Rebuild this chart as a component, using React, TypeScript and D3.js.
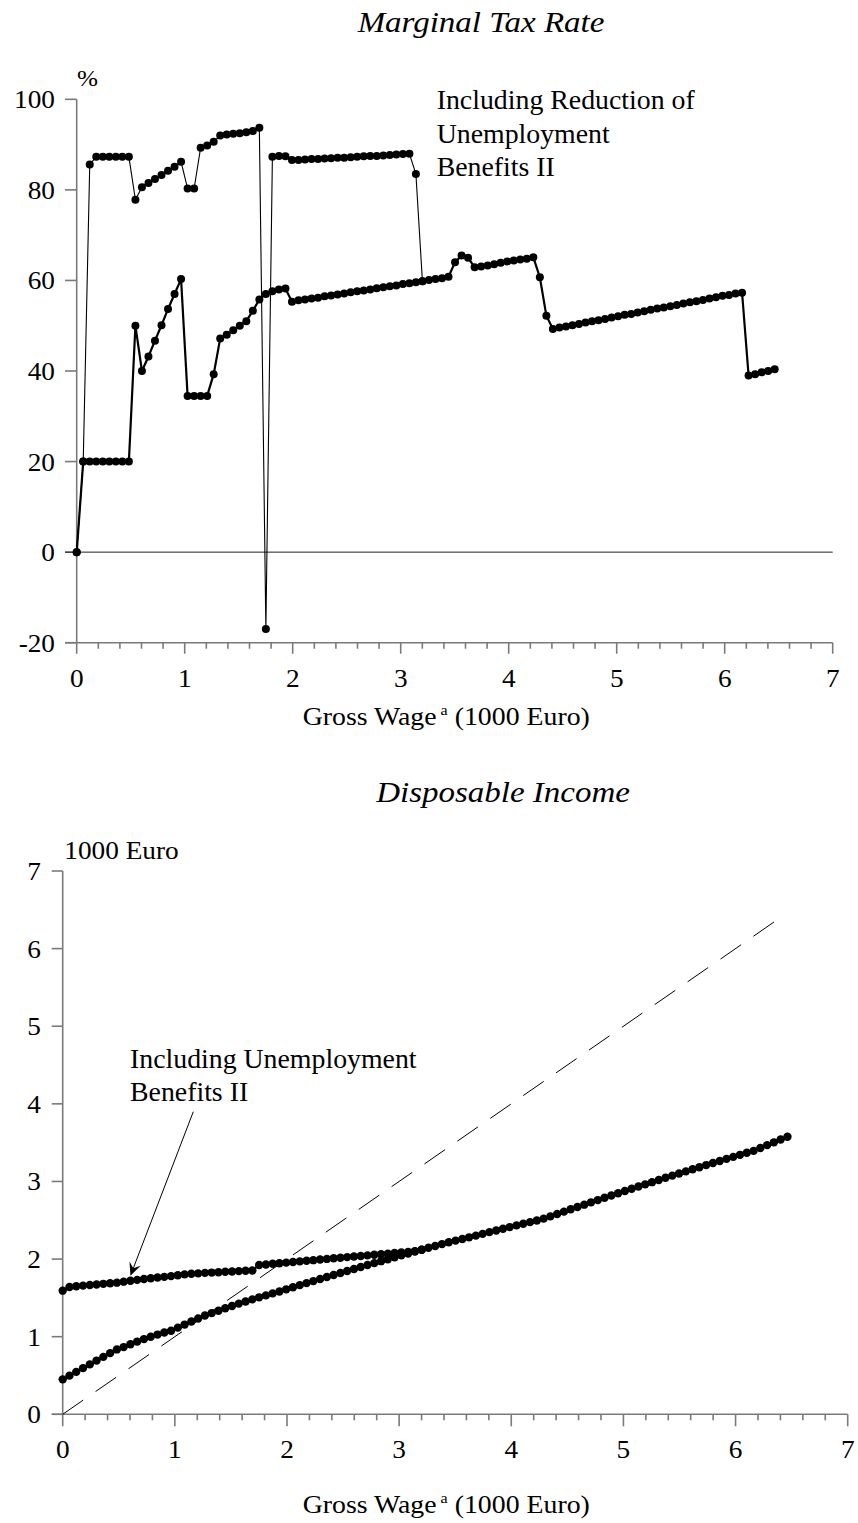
import React from 'react';
import * as d3 from 'd3';

// Gross wage grid (1000 Euro)
const WAGE_STEP = 0.0604;
const grossWage: number[] = d3.range(108).map((i) => i * WAGE_STEP);

// Marginal tax rate (%) – base case
const mtrBase: number[] = [
  0, 20, 20, 20, 20, 20, 20, 20, 20,
  50, 40, 43.2, 46.7, 50.1, 53.7, 57.0, 60.3,
  34.5, 34.5, 34.5, 34.5,
  39.3, 47.2, 48.0, 49.0, 50.0, 51.0, 53.3, 55.8,
  57.0, 57.6, 58.0, 58.2,
  55.3,
  55.6, 55.8, 56.0, 56.2, 56.5, 56.7, 56.9, 57.1, 57.4, 57.6, 57.8, 58.0,
  58.3, 58.5, 58.7, 58.9, 59.2, 59.4, 59.6, 59.8, 60.1, 60.3, 60.5, 60.8,
  64.0, 65.5, 65.0,
  62.9, 63.1, 63.3, 63.6, 63.9, 64.2, 64.4, 64.6, 64.8, 65.1,
  60.7, 52.2, 49.3,
  49.6, 49.8, 50.1, 50.4, 50.7, 51.0, 51.2, 51.5, 51.8, 52.1, 52.4, 52.6,
  52.9, 53.2, 53.5, 53.8, 54.0, 54.3, 54.6, 54.9, 55.2, 55.4, 55.7, 56.0,
  56.3, 56.6, 56.8, 57.1, 57.3,
  39.0, 39.3, 39.7, 40.0, 40.4,
];

// Marginal tax rate (%) – including reduction of Unemployment Benefits II
// (identical to the base case from the last value on)
const mtrWithUB: number[] = [
  0, 20, 85.6,
  87.3, 87.3, 87.3, 87.3, 87.3, 87.3,
  77.8, 80.6, 81.5, 82.4, 83.3, 84.2, 85.1, 86.2,
  80.3, 80.3,
  89.3, 89.8, 90.6, 92.0, 92.2, 92.4, 92.5, 92.7, 93.0, 93.7,
  -17.0,
  87.3, 87.5, 87.4,
  86.6, 86.6, 86.7, 86.8, 86.8, 86.9, 87.0, 87.1, 87.1, 87.2, 87.3, 87.4,
  87.5, 87.5, 87.6, 87.7, 87.8, 87.9, 88.0,
  83.5, 59.8,
];

// Disposable income (1000 Euro) – base case
const incomeBase: number[] = [
  0.450, 0.498, 0.547, 0.595, 0.643, 0.692, 0.740, 0.788, 0.836,
  0.866, 0.903, 0.937, 0.969, 0.999, 1.027, 1.053, 1.077,
  1.117, 1.156, 1.196, 1.235,
  1.272, 1.304, 1.335, 1.366, 1.396, 1.426, 1.454, 1.481,
  1.507, 1.532, 1.558, 1.583,
  1.610,
  1.637, 1.664, 1.690, 1.716, 1.743, 1.769, 1.795, 1.821, 1.847, 1.872, 1.898, 1.923,
  1.948, 1.973, 1.998, 2.023, 2.048, 2.072, 2.097, 2.121, 2.145, 2.169, 2.193, 2.216,
  2.238, 2.259, 2.280,
  2.302, 2.325, 2.347, 2.369, 2.391, 2.412, 2.434, 2.455, 2.476, 2.497,
  2.521, 2.550, 2.580,
  2.611, 2.641, 2.671, 2.701, 2.731, 2.760, 2.790, 2.819, 2.848, 2.877,
  2.906, 2.935, 2.963, 2.991, 3.019, 3.047, 3.075, 3.102, 3.130, 3.157,
  3.184, 3.211, 3.238, 3.264, 3.291, 3.317, 3.343, 3.369, 3.394,
  3.431, 3.468, 3.504, 3.540, 3.576,
];

// Disposable income (1000 Euro) – including Unemployment Benefits II
const incomeWithUB: number[] = [
  1.593, 1.641, 1.650,
  1.658, 1.665, 1.673, 1.681, 1.688, 1.696,
  1.709, 1.721, 1.732, 1.743, 1.753, 1.762, 1.771, 1.780,
  1.792, 1.803,
  1.810, 1.816, 1.822, 1.826, 1.831, 1.836, 1.840, 1.845, 1.849, 1.853,
  1.924,
  1.931, 1.939, 1.946,
  1.954, 1.962, 1.970, 1.978, 1.986, 1.994, 2.002, 2.010, 2.017, 2.025,
  2.033, 2.040, 2.048, 2.055, 2.063, 2.070, 2.078, 2.085, 2.092,
  2.102, 2.121,
];

// 45-degree reference line (gross = net), end of drawn range
const diagonalEnd = 6.35;

const xTicks = [0, 1, 2, 3, 4, 5, 6, 7];
const xMinorTicks = d3.range(0, 35.5, 1).map((i) => i / 5);
const mtrTicks = [-20, 0, 20, 40, 60, 80, 100];
const incomeTicks = [0, 1, 2, 3, 4, 5, 6, 7];

const FONT = "'Liberation Serif','Times New Roman',Times,serif";
const AXIS = '#7a7a7a';

type TxtProps = {
  x: number;
  y: number;
  anchor?: 'start' | 'middle' | 'end';
  size?: number;
  italic?: boolean;
  sx?: number;
  children: React.ReactNode;
};
const Txt = ({ x, y, anchor = 'start', size = 26, italic = false, sx = 1.05, children }: TxtProps) => (
  <text
    transform={`translate(${x},${y}) scale(${sx},1)`}
    textAnchor={anchor}
    fontSize={size}
    fontStyle={italic ? 'italic' : 'normal'}
    fontFamily={FONT}
    fill="#000"
  >
    {children}
  </text>
);

const XLabel = ({ x, y }: { x: number; y: number }) => (
  <text transform={`translate(${x},${y}) scale(1.07,1)`} fontSize={26} fontFamily={FONT} fill="#000">
    Gross Wage
    <tspan fontSize={15} dy={-10}> a</tspan>
    <tspan dy={10}> (1000 Euro)</tspan>
  </text>
);

export default function App() {
  // Top chart scales
  const xT = d3.scaleLinear().domain([0, 7]).range([76.7, 832.7]);
  const yT = d3.scaleLinear().domain([-20, 100]).range([642.7, 99.3]);
  // Bottom chart scales
  const xB = d3.scaleLinear().domain([0, 7]).range([62.7, 847.7]);
  const yB = d3.scaleLinear().domain([0, 7]).range([1414.3, 871]);

  const lineT = d3
    .line<number>()
    .x((_, i) => xT(grossWage[i]))
    .y((d) => yT(d));
  const lineB = d3
    .line<number>()
    .x((_, i) => xB(grossWage[i]))
    .y((d) => yB(d));

  // arrow
  const arrowStart: [number, number] = [193.3, 1111.7];
  const tipIdx = 10;
  const tip: [number, number] = [xB(grossWage[tipIdx]), yB(incomeWithUB[tipIdx]) - 5];
  const dx = tip[0] - arrowStart[0];
  const dy = tip[1] - arrowStart[1];
  const len = Math.hypot(dx, dy);
  const ux = dx / len;
  const uy = dy / len;
  const nx = -uy;
  const ny = ux;
  const headL = 13;
  const headW = 6;
  const notch = 8;
  const w1 = [tip[0] - ux * headL + nx * headW, tip[1] - uy * headL + ny * headW];
  const w2 = [tip[0] - ux * headL - nx * headW, tip[1] - uy * headL - ny * headW];
  const nb = [tip[0] - ux * notch, tip[1] - uy * notch];

  return (
    <svg
      width={858}
      height={1523}
      style={{ position: 'absolute', left: 0, top: 0, background: '#fff' }}
    >
      <rect x={0} y={0} width={858} height={1523} fill="#fff" />

      {/* ================= TOP CHART ================= */}
      <Txt x={481} y={32.3} anchor="middle" size={30} italic sx={1.1}>
        Marginal Tax Rate
      </Txt>
      <Txt x={77} y={86} size={24}>
        %
      </Txt>

      {/* zero line */}
      <line x1={65} x2={xT(7)} y1={yT(0)} y2={yT(0)} stroke="#222" strokeWidth={1} />
      {/* y axis */}
      <line x1={xT(0)} x2={xT(0)} y1={yT(100)} y2={yT(-20)} stroke={AXIS} strokeWidth={1.6} />
      {/* x axis */}
      <line x1={65} x2={xT(7)} y1={yT(-20)} y2={yT(-20)} stroke={AXIS} strokeWidth={1.6} />
      {mtrTicks.map((t) => (
        <g key={`yt${t}`}>
          <line x1={65} x2={xT(0)} y1={yT(t)} y2={yT(t)} stroke={t === 0 ? '#222' : AXIS} strokeWidth={t === 0 ? 1 : 1.6} />
          <Txt x={55} y={yT(t) + 9} anchor="end">
            {t}
          </Txt>
        </g>
      ))}
      {xMinorTicks.map((t) => (
        <line
          key={`xmt${t}`}
          x1={xT(t)}
          x2={xT(t)}
          y1={yT(-20)}
          y2={yT(-20) + (Math.abs(t - Math.round(t)) < 1e-6 ? 11 : 6)}
          stroke={AXIS}
          strokeWidth={1.6}
        />
      ))}
      {xTicks.map((t) => (
        <Txt key={`xtl${t}`} x={xT(t)} y={686.7} anchor="middle">
          {t}
        </Txt>
      ))}
      <XLabel x={302.7} y={725} />

      {/* series */}
      <path d={lineT(mtrBase) || ''} fill="none" stroke="#000" strokeWidth={2.2} />
      <path d={lineT(mtrWithUB) || ''} fill="none" stroke="#000" strokeWidth={1.1} />
      {mtrBase.map((v, i) => (
        <circle key={`mb${i}`} cx={xT(grossWage[i])} cy={yT(v)} r={4} fill="#000" />
      ))}
      {mtrWithUB.map((v, i) => (
        <circle key={`mu${i}`} cx={xT(grossWage[i])} cy={yT(v)} r={4} fill="#000" />
      ))}

      <Txt x={436.7} y={109.3} size={26.5}>
        Including Reduction of
      </Txt>
      <Txt x={436.7} y={142.7} size={26.5}>
        Unemployment
      </Txt>
      <Txt x={436.7} y={176} size={26.5}>
        Benefits II
      </Txt>

      {/* ================= BOTTOM CHART ================= */}
      <Txt x={503} y={802} anchor="middle" size={30} italic sx={1.1}>
        Disposable Income
      </Txt>
      <Txt x={64.3} y={859.3} size={26}>
        1000 Euro
      </Txt>

      <line x1={xB(0)} x2={xB(0)} y1={yB(7)} y2={yB(0)} stroke={AXIS} strokeWidth={1.6} />
      <line x1={51.7} x2={xB(7)} y1={yB(0)} y2={yB(0)} stroke={AXIS} strokeWidth={1.6} />
      {incomeTicks.map((t) => (
        <g key={`ybt${t}`}>
          <line x1={51.7} x2={xB(0)} y1={yB(t)} y2={yB(t)} stroke={AXIS} strokeWidth={1.6} />
          <Txt x={41} y={yB(t) + 9} anchor="end">
            {t}
          </Txt>
        </g>
      ))}
      {xMinorTicks.map((t) => (
        <line
          key={`xbmt${t}`}
          x1={xB(t)}
          x2={xB(t)}
          y1={yB(0)}
          y2={yB(0) + (Math.abs(t - Math.round(t)) < 1e-6 ? 12 : 6)}
          stroke={AXIS}
          strokeWidth={1.6}
        />
      ))}
      {xTicks.map((t) => (
        <Txt key={`xbtl${t}`} x={xB(t)} y={1458.3} anchor="middle">
          {t}
        </Txt>
      ))}
      <XLabel x={302.7} y={1513.3} />

      {/* 45-degree reference line */}
      <line
        x1={xB(0)}
        y1={yB(0)}
        x2={xB(diagonalEnd)}
        y2={yB(diagonalEnd)}
        stroke="#000"
        strokeWidth={1}
        strokeDasharray="25 15"
      />

      <path d={lineB(incomeBase) || ''} fill="none" stroke="#000" strokeWidth={2} />
      <path d={lineB(incomeWithUB) || ''} fill="none" stroke="#000" strokeWidth={2} />
      {incomeBase.map((v, i) => (
        <circle key={`ib${i}`} cx={xB(grossWage[i])} cy={yB(v)} r={4.2} fill="#000" />
      ))}
      {incomeWithUB.map((v, i) => (
        <circle key={`iu${i}`} cx={xB(grossWage[i])} cy={yB(v)} r={4.2} fill="#000" />
      ))}

      <Txt x={130} y={1068} size={26.5}>
        Including Unemployment
      </Txt>
      <Txt x={130} y={1101} size={26.5}>
        Benefits II
      </Txt>
      <line
        x1={arrowStart[0]}
        y1={arrowStart[1]}
        x2={nb[0]}
        y2={nb[1]}
        stroke="#000"
        strokeWidth={1}
      />
      <path
        d={`M${tip[0]},${tip[1]} L${w1[0]},${w1[1]} L${nb[0]},${nb[1]} L${w2[0]},${w2[1]} Z`}
        fill="#000"
      />
    </svg>
  );
}
